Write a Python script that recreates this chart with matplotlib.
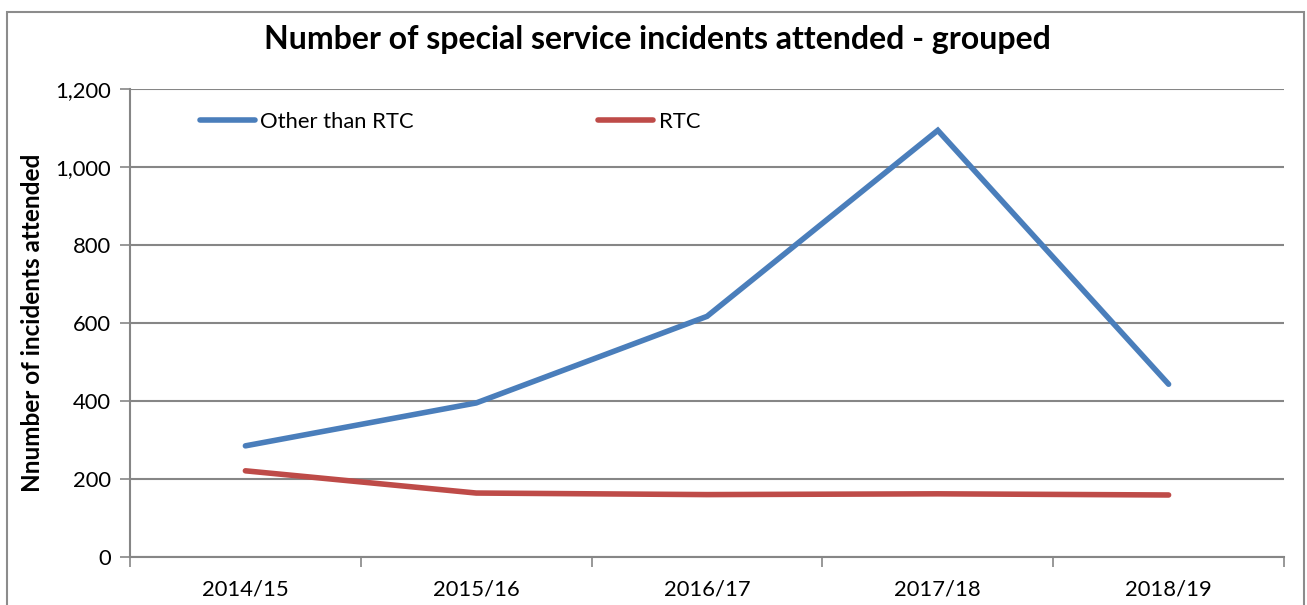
import matplotlib.pyplot as plt
from matplotlib.patches import Rectangle
from matplotlib.ticker import FuncFormatter, FixedLocator

years = ['2014/15', '2015/16', '2016/17', '2017/18', '2018/19']
other_than_rtc = [285, 395, 617, 1094, 443]
rtc = [221, 164, 160, 162, 159]

plt.rcParams['font.family'] = ['Lato', 'DejaVu Sans']

fig = plt.figure(figsize=(13.07, 6.05), dpi=100)
ax = fig.add_axes([130 / 1307, 48 / 605, 1154 / 1307, 468 / 605])

# chart frame
fig.patches.append(Rectangle((7 / 1307, -0.05), 1297 / 1307, 1 - 12 / 605 + 0.05,
                             transform=fig.transFigure, fill=False,
                             edgecolor='#8c8c8c', linewidth=1.5))

x = range(len(years))
ax.plot(x, other_than_rtc, color='#4a7ebb', linewidth=4, label='Other than RTC',
        solid_capstyle='round', solid_joinstyle='miter')
ax.plot(x, rtc, color='#be4b48', linewidth=4, label='RTC',
        solid_capstyle='round', solid_joinstyle='miter')

ax.set_xlim(-0.5, len(years) - 0.5)
ax.set_ylim(0, 1200)
ax.set_yticks(range(0, 1201, 200))
ax.yaxis.set_major_formatter(FuncFormatter(lambda v, p: f'{int(v):,}'))
ax.grid(axis='y', color='#868686', linewidth=1.5)
ax.set_axisbelow(True)

ax.set_xticks(list(x))
ax.set_xticklabels(years)
ax.xaxis.set_minor_locator(FixedLocator([i - 0.5 for i in range(len(years) + 1)]))
ax.tick_params(axis='x', which='major', length=0, pad=16, labelsize=15.8)
ax.tick_params(axis='x', which='minor', length=7, width=1.2, color='#868686')
ax.tick_params(axis='y', length=7, width=1.2, color='#868686', labelsize=15.8, pad=7)

for s in ['top', 'right']:
    ax.spines[s].set_visible(False)
for s in ['left', 'bottom']:
    ax.spines[s].set_color('#868686')
    ax.spines[s].set_linewidth(1.5)

ax.set_ylabel('Nnumber of incidents attended', fontsize=17.5, fontweight='bold', labelpad=8)
fig.text(0.503, 1 - 40 / 605, 'Number of special service incidents attended - grouped',
         ha='center', va='center', fontsize=23, fontweight='bold')

ax.legend(loc='upper left', bbox_to_anchor=(70 / 1154, 0.951), ncol=2, frameon=False,
          fontsize=15.8, handlelength=2.5, handletextpad=0.25, columnspacing=8.4,
          borderpad=0, borderaxespad=0)

plt.savefig('out.png', dpi=100)
